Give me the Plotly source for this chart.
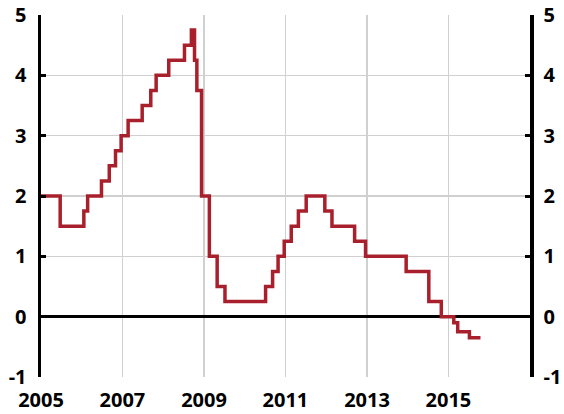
import plotly.graph_objects as go

# Repo rate change dates and values (step function)
dates = [
    "2005-01-01", "2005-06-22", "2006-01-20", "2006-02-23", "2006-06-27",
    "2006-09-05", "2006-10-31", "2006-12-20", "2007-02-21", "2007-06-27",
    "2007-09-12", "2007-10-30", "2008-02-20", "2008-07-10", "2008-09-10",
    "2008-10-08", "2008-10-29", "2008-12-10", "2009-02-18", "2009-04-29",
    "2009-07-08", "2010-07-07", "2010-09-08", "2010-10-27", "2010-12-21",
    "2011-02-22", "2011-04-27", "2011-07-06", "2011-12-20", "2012-02-22",
    "2012-09-12", "2012-12-19", "2013-12-18", "2014-07-09", "2014-10-29",
    "2015-02-18", "2015-03-25", "2015-07-08", "2015-10-15",
]
rates = [
    2.00, 1.50, 1.75, 2.00, 2.25,
    2.50, 2.75, 3.00, 3.25, 3.50,
    3.75, 4.00, 4.25, 4.50, 4.75,
    4.25, 3.75, 2.00, 1.00, 0.50,
    0.25, 0.50, 0.75, 1.00, 1.25,
    1.50, 1.75, 2.00, 1.75, 1.50,
    1.25, 1.00, 0.75, 0.25, 0.00,
    -0.10, -0.25, -0.35, -0.35,
]
x_tick_years = [2005, 2007, 2009, 2011, 2013, 2015]
y_ticks = [-1, 0, 1, 2, 3, 4, 5]

font = dict(family="Open Sans", size=20, color="black", weight="bold")

fig = go.Figure()
fig.add_trace(go.Scatter(
    x=dates, y=rates, mode="lines", line=dict(color="#a8202c", width=3.5, shape="hv"),
    showlegend=False, hoverinfo="skip",
))
fig.add_trace(go.Scatter(
    x=[dates[0]], y=[rates[0]], yaxis="y2", mode="markers",
    marker=dict(opacity=0), showlegend=False, hoverinfo="skip",
))

yax = dict(
    range=[-1, 5], tickvals=y_ticks, ticktext=[str(v) for v in y_ticks],
    showline=True, linecolor="black", linewidth=3.5,
    ticks="inside", ticklen=5, tickwidth=3, tickcolor="black",
    tickfont=font, fixedrange=True, automargin=False,
)

fig.update_layout(
    width=564, height=414,
    margin=dict(l=41, r=34, t=15, b=37),
    paper_bgcolor="white", plot_bgcolor="white",
    xaxis=dict(
        range=["2005-01-01", "2017-01-01"],
        tickvals=[f"{y}-01-01" for y in x_tick_years],
        ticktext=[str(y) for y in x_tick_years],
        showgrid=True, gridcolor="#d0d0d0", gridwidth=1.5,
        showline=False, zeroline=False, ticks="",
        tickfont=font, automargin=False, ticklabelstandoff=9, fixedrange=True,
    ),
    yaxis=dict(
        **yax, side="left", showgrid=True, gridcolor="#d0d0d0", gridwidth=1.5,
        zeroline=True, zerolinecolor="black", zerolinewidth=3,
        ticklabelstandoff=7,
    ),
    yaxis2=dict(
        **yax, side="right", overlaying="y", showgrid=False, zeroline=False,
        ticklabelstandoff=6,
    ),
)

fig.write_html(
    "out.html",
    config={"displayModeBar": False, "staticPlot": True},
    post_script="document.body.style.margin='0';document.body.style.overflow='hidden';",
)
